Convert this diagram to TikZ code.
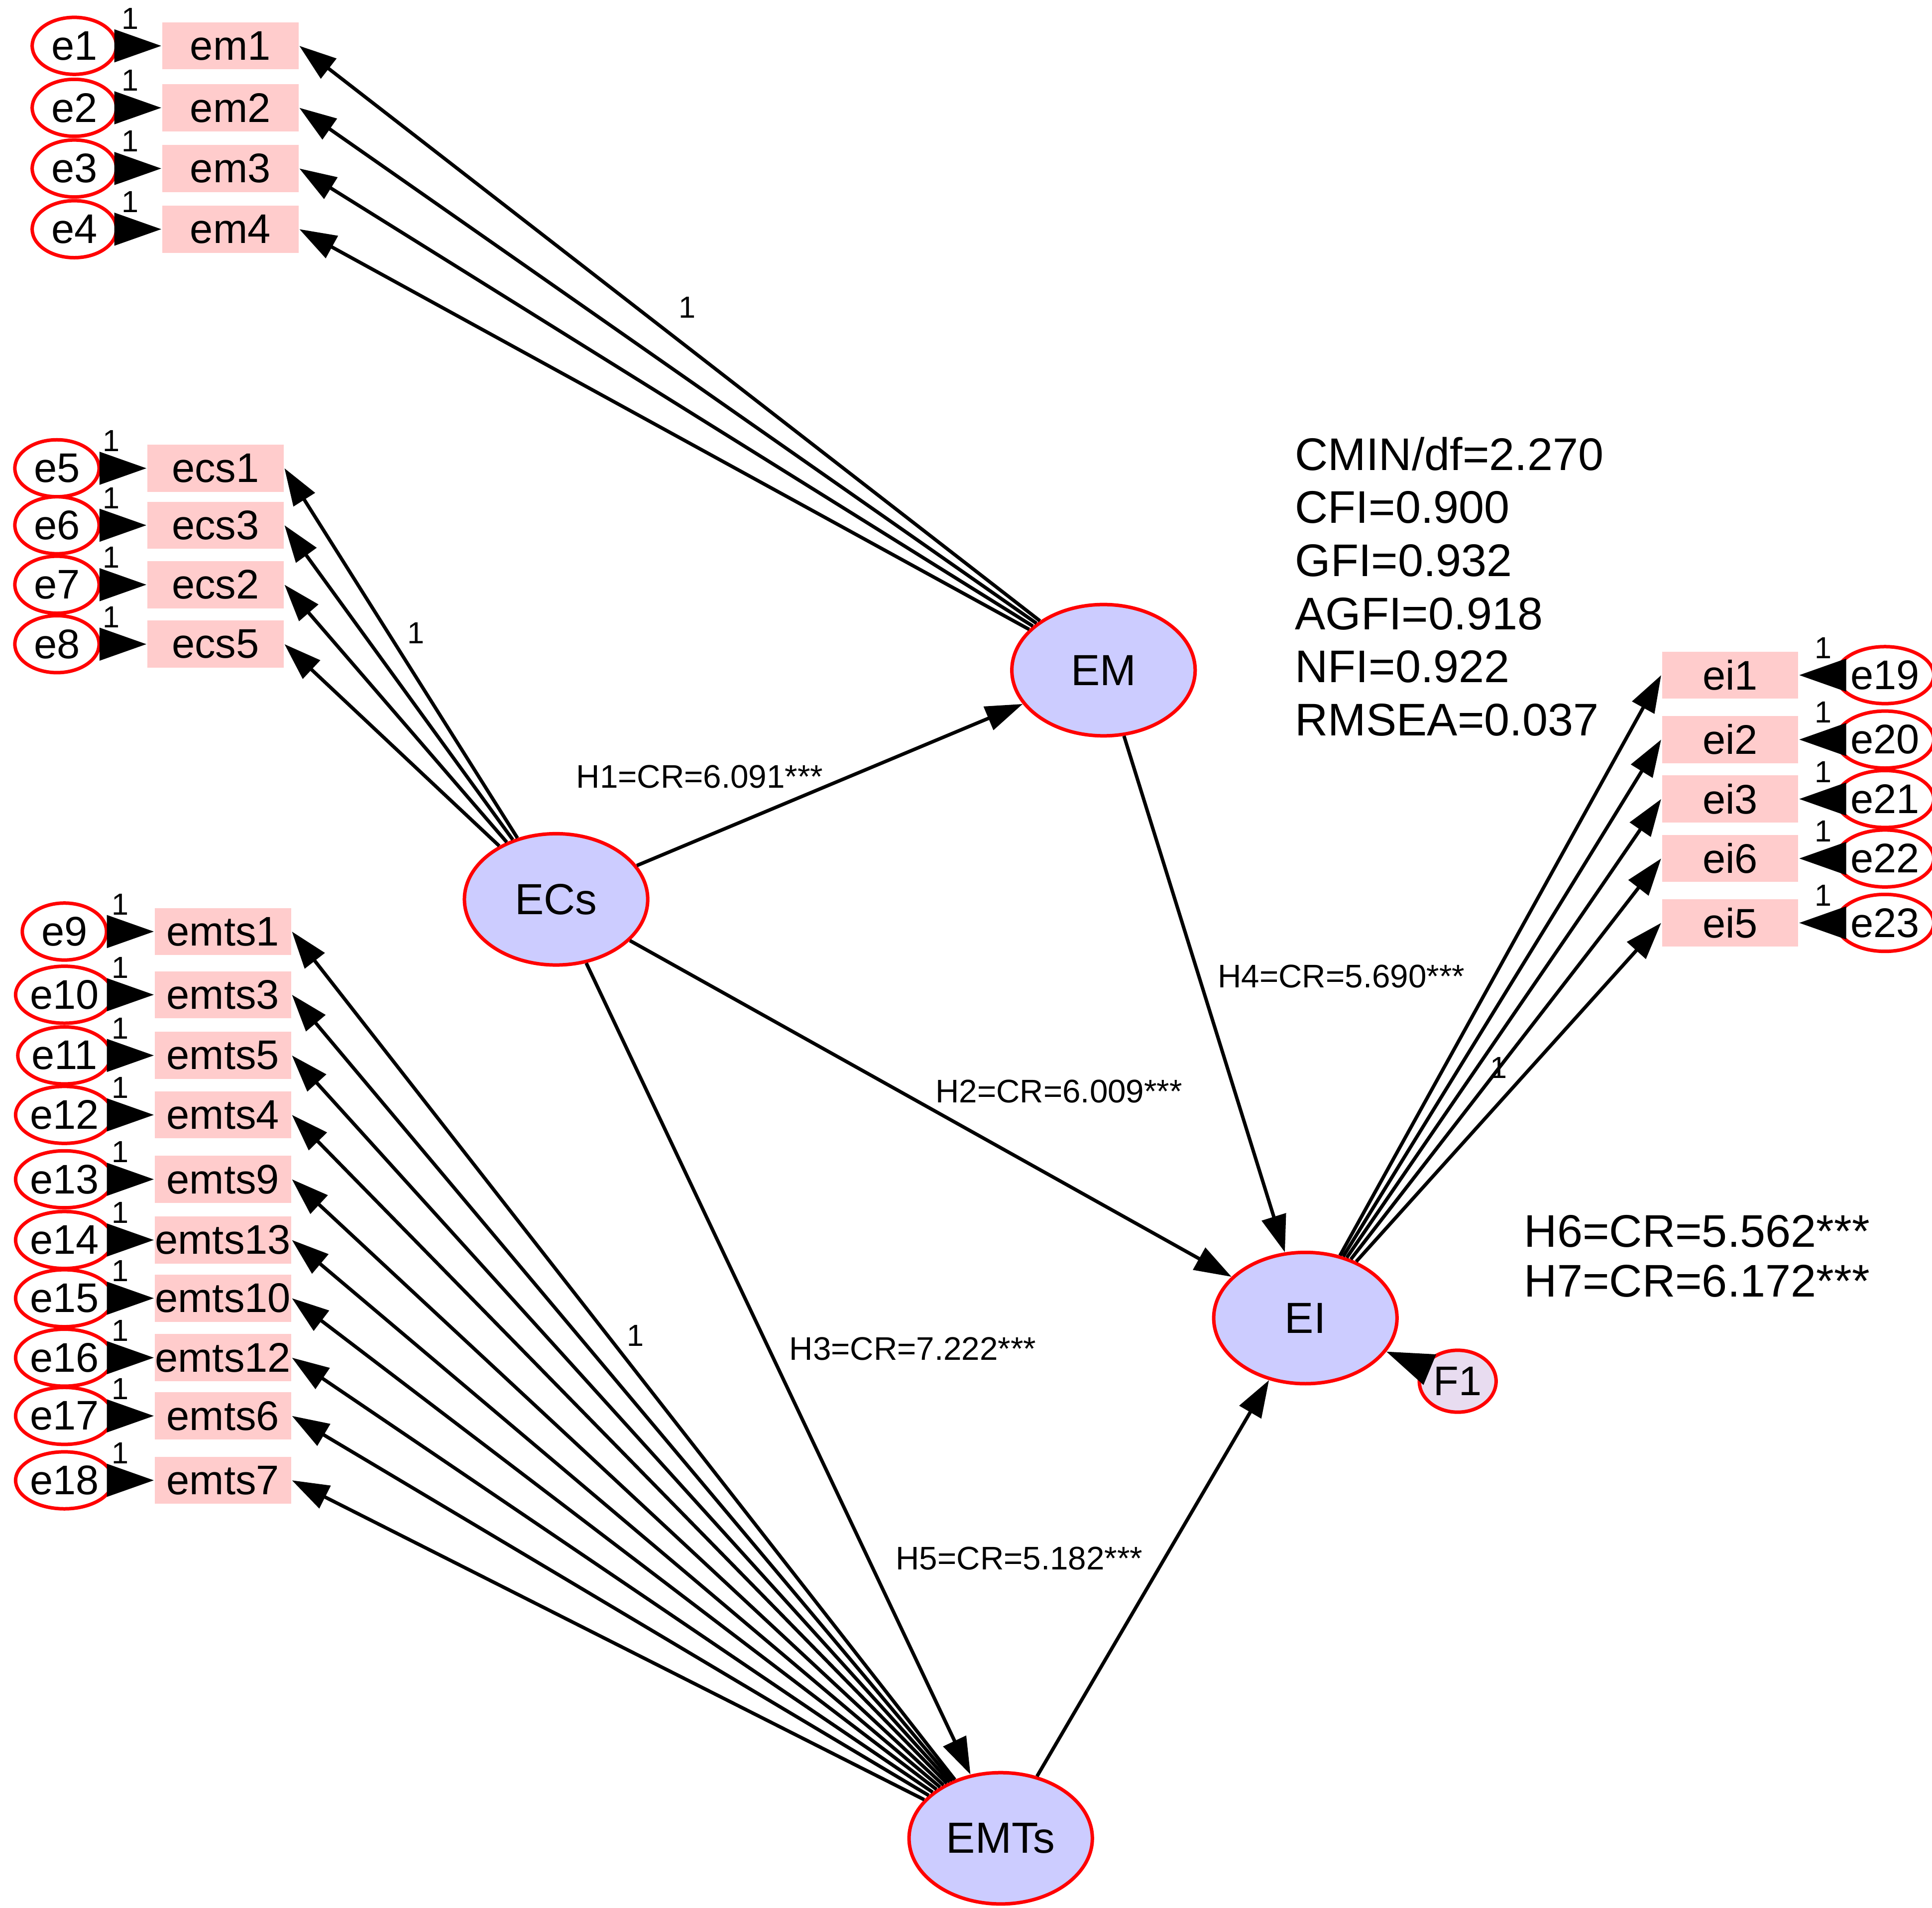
\documentclass[tikz,border=0pt]{standalone}
\usepackage{fontspec}
\setmainfont{Liberation Sans}
\usetikzlibrary{arrows.meta,shapes.geometric}
\definecolor{obsfill}{RGB}{255,204,204}
\definecolor{latfill}{RGB}{204,204,255}
\definecolor{resfill}{RGB}{232,220,240}
\tikzset{
  obs/.style={draw=none,fill=obsfill,minimum width=1.1cm,minimum height=0.38cm,inner sep=0pt,font=\fontsize{9.5}{11}\selectfont},
  lat/.style={ellipse,draw=red,thick,fill=latfill,minimum width=1.48cm,minimum height=1.06cm,inner sep=0pt,font=\fontsize{10}{12}\selectfont},
  err/.style={ellipse,draw=red,thick,fill=white,minimum width=0.68cm,minimum height=0.46cm,inner sep=0pt,font=\fontsize{9.5}{11}\selectfont},
  pth/.style={-{Triangle[length=0.3cm,width=0.2cm]},thick},
  ear/.style={-{Triangle[length=0.38cm,width=0.26cm]},thick},
  one/.style={font=\fontsize{7}{8}\selectfont},
  hlab/.style={font=\fontsize{7.5}{9}\selectfont}
}
\begin{document}
\begin{tikzpicture}
\useasboundingbox (0,0) rectangle (15.6,-15.4);
% latent variables
\node [lat] (EM) at (8.91,-5.41) {EM};
\node [lat] (ECs) at (4.49,-7.26) {ECs};
\node [lat] (EI) at (10.54,-10.64) {EI};
\node [lat] (EMTs) at (8.08,-14.84) {EMTs};
\node [err,fill=resfill,minimum width=0.62cm,minimum height=0.5cm] (F1) at (11.77,-11.15) {F1};
% EM block
\foreach \i/\n/\y in {1/em1/0.37,2/em2/0.87,3/em3/1.36,4/em4/1.85}{
  \node [obs] (\n) at (1.86,-\y) {\n};
  \node [err] (e\i) at (0.6,-\y) {e\i};
  \draw [ear] (e\i) -- (\n);
  \node [one] at (1.05,-\y+0.22) {1};
  \draw [pth] (EM) -- (\n.east);
}
\node [one] at (5.55,-2.48) {1};
% ECs block
\foreach \i/\n/\y in {5/ecs1/3.78,6/ecs3/4.24,7/ecs2/4.72,8/ecs5/5.2}{
  \node [obs] (\n) at (1.74,-\y) {\n};
  \node [err] (e\i) at (0.46,-\y) {e\i};
  \draw [ear] (e\i) -- (\n);
  \node [one] at (0.9,-\y+0.22) {1};
  \draw [pth] (ECs) -- (\n.east);
}
\node [one] at (3.36,-5.11) {1};
% EMTs block
\foreach \i/\n/\y in {9/emts1/7.52,10/emts3/8.03,11/emts5/8.52,12/emts4/9.0,13/emts9/9.52,14/emts13/10.01,15/emts10/10.48,16/emts12/10.96,17/emts6/11.43,18/emts7/11.95}{
  \node [obs] (\n) at (1.8,-\y) {\n};
  \node [err] (e\i) at (0.52,-\y) {e\i};
  \draw [ear] (e\i) -- (\n);
  \node [one] at (0.97,-\y+0.22) {1};
  \draw [pth] (EMTs) -- (\n.east);
}
\node [one] at (5.13,-10.78) {1};
% EI block
\foreach \i/\n/\y in {19/ei1/5.45,20/ei2/5.97,21/ei3/6.45,22/ei6/6.93,23/ei5/7.45}{
  \node [obs] (\n) at (13.97,-\y) {\n};
  \node [err] (e\i) at (15.22,-\y) {e\i};
  \draw [ear] (e\i) -- (\n);
  \node [one] at (14.72,-\y+0.22) {1};
  \draw [pth] (EI) -- (\n.west);
}
\node [one] at (12.1,-8.62) {1};
% structural paths
\draw [pth] (ECs) -- (EM);
\draw [pth] (ECs) -- (EI);
\draw [pth] (ECs) -- (EMTs);
\draw [pth] (EM) -- (EI);
\draw [pth] (EMTs) -- (EI);
\draw [ear] (F1) -- (EI);
\node [hlab] at (5.65,-6.27) {H1=CR=6.091***};
\node [hlab] at (10.83,-7.88) {H4=CR=5.690***};
\node [hlab] at (8.55,-8.81) {H2=CR=6.009***};
\node [hlab] at (7.37,-10.89) {H3=CR=7.222***};
\node [hlab] at (8.23,-12.58) {H5=CR=5.182***};
% fit indices
\node [anchor=north west,align=left,font=\fontsize{10.5}{12.2}\selectfont,inner sep=0pt] (fit) at (10.45,-3.52) {CMIN/df=2.270\\CFI=0.900\\GFI=0.932\\AGFI=0.918\\NFI=0.922\\RMSEA=0.037};
\node [anchor=north west,align=left,font=\fontsize{10.5}{11.5}\selectfont,inner sep=0pt] (hyp) at (12.3,-9.8) {H6=CR=5.562***\\H7=CR=6.172***};
\end{tikzpicture}
\end{document}
